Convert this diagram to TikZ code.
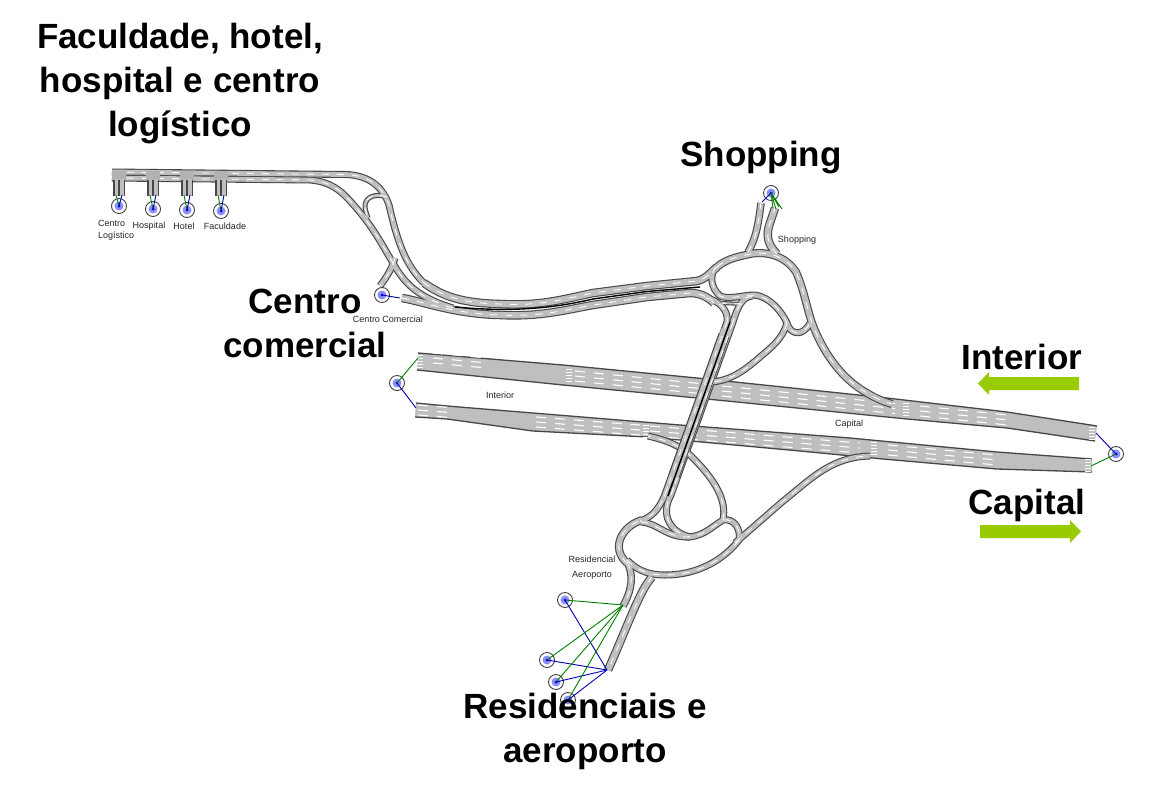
\documentclass[tikz,border=0pt]{standalone}
\usepackage{fontspec}
\setmainfont{Liberation Sans}
\tikzset{
  site/.style={circle,draw=black!75,line width=0.9pt,minimum size=15pt,inner sep=0pt,
    path picture={\fill[blue!45] (path picture bounding box.center) circle (4.5pt);
                  \fill[blue!75!black] (path picture bounding box.center) circle (1.5pt);}},
  big/.style={font=\bfseries\fontsize{35}{44}\selectfont,align=center,inner sep=0pt,text=black},
  small/.style={font=\fontsize{9}{12}\selectfont,align=center,inner sep=0pt,text=black!85},
  gl/.style={draw=green!50!black,line width=0.9pt},
  bl/.style={draw=blue!70!black,line width=0.9pt},
  redge/.style={draw=black!72,line cap=butt,line join=round},
  rfill/.style={draw=black!25,line cap=butt,line join=round},
  rdash/.style={draw=white,line width=0.9pt,dash pattern=on 7pt off 8pt},
  lane/.style={draw=white,line width=1.1pt,dash pattern=on 10pt off 9pt},
  hwy/.style={fill=black!25},
  hedge/.style={draw=black!72,line width=1.3pt,line join=round},
}
\definecolor{arrowgreen}{HTML}{99CC00}
% the ramps, drawn in three passes so that they merge
\newcommand{\allroads}{%
  % top-left pair and upper mid section
  \rd{7}{(112,172) -- (345,174.5) .. controls (372,175) and (384,190) .. (389,205) .. controls (397,240) and (405,265) .. (424,283)}
  \rd{8.5}{(424,283) .. controls (445,298) and (465,303) .. (500,304) .. controls (540,306) and (560,300) .. (593,293) -- (647,286) -- (697,281) .. controls (706,279) and (711,272) .. (717,267)}
  \rd{7}{(112,178) -- (310,180) .. controls (335,182) and (345,195) .. (358,210) .. controls (375,230) and (385,250) .. (393,263) .. controls (405,285) and (420,298) .. (453,308)}
  \rd{7}{(395,258) .. controls (391,272) and (384,280) .. (380,286)}
  \rd{5}{(387,197) .. controls (375,193) and (366,197) .. (365,205) .. controls (365,210) and (366,212) .. (368,218)}
  % lower carriageway, mid section
  \rd{8.5}{(402,298) .. controls (425,302) and (455,314) .. (500,315) .. controls (540,317) and (565,310) .. (593,305) -- (647,297) -- (690,293) .. controls (700,293) and (708,297) .. (714,303)}
  % upper junction
  \rd{8}{(717,267) .. controls (727,258) and (742,256) .. (750,254) .. controls (765,251) and (785,255) .. (796,272) .. controls (804,290) and (806,305) .. (812,323) .. controls (822,350) and (840,378) .. (867,393) .. controls (875,398) and (882,401) .. (892,404)}
  \rd{7}{(716,267) .. controls (709,275) and (711,288) .. (720,296) .. controls (730,300) and (742,295) .. (755,295) .. controls (770,297) and (782,312) .. (787,323) .. controls (790,335) and (803,337) .. (810,323)}
  \rd{7}{(787,323) .. controls (783,338) and (772,347) .. (760,357) .. controls (745,370) and (732,380) .. (712,382)}
  \rd{7.5}{(748,252) .. controls (755,240) and (758,228) .. (761,203)}
  \rd{8.5}{(777,254) .. controls (768,245) and (766,236) .. (769,226) -- (775,208)}
  % overpass carriageways and their branches
  \rd{7}{(706,298) .. controls (718,300) and (729,310) .. (727,322) -- (664,497) .. controls (658,510) and (652,517) .. (640,521)}
  \rd{7}{(752,296) .. controls (743,297) and (738,305) .. (733,322) -- (671,495) .. controls (660,515) and (670,532) .. (690,537)}
  \rd{4}{(742,304) -- (722,303)}
  % lower junction
  \rd{8}{(627,563) .. controls (610,548) and (622,526) .. (642,520)}
  \rd{7}{(641,522) .. controls (658,523) and (666,538) .. (690,537) .. controls (705,535) and (713,526) .. (723,520) .. controls (735,518) and (741,530) .. (739,540) .. controls (725,558) and (700,575) .. (665,575) .. controls (645,575) and (635,568) .. (627,560)}
  \rd{7}{(723,520) .. controls (727,500) and (715,480) .. (692,457) .. controls (680,445) and (665,440) .. (648,436)}
  \rd{7.5}{(627,562) .. controls (634,575) and (632,590) .. (623,606)}
  \rd{8.5}{(652,577) .. controls (640,590) and (628,625) .. (608,670)}
  \rd{7}{(735,543) -- (782,502) .. controls (810,480) and (830,457) .. (870,456)}
}
\begin{document}
\begin{tikzpicture}[x=1pt,y=-1pt]
\useasboundingbox (0,0) rectangle (1169,800);
\fill[white] (0,0) rectangle (1169,800);

% ---- highways
\fill[hwy] (418,353) -- (563,365) -- (697,378) -- (887,398) -- (1007,412) -- (1097,426)
  -- (1095,441) -- (1007,428) -- (907,419) -- (697,398) -- (563,385) -- (417,370) -- cycle;
\draw[hedge] (418,353) -- (563,365) -- (697,378) -- (887,398) -- (1007,412) -- (1097,426);
\draw[hedge] (417,370) -- (563,385) -- (697,398) -- (907,419) -- (1007,428) -- (1095,441);
\fill[hwy] (416,403) -- (447,406) -- (533,413) -- (680,425) -- (850,438) -- (997,452) -- (1092,459)
  -- (1092,472) -- (997,469) -- (883,459) -- (800,451) -- (647,437) -- (533,431) -- (447,419) -- (415,417) -- cycle;
\draw[hedge] (416,403) -- (447,406) -- (533,413) -- (680,425) -- (850,438) -- (997,452) -- (1092,459);
\draw[hedge] (415,417) -- (447,419) -- (533,431) -- (647,437) -- (800,451) -- (883,459) -- (997,469) -- (1092,472);
% lane marks
\foreach \d in {-5,0,5}{
  \draw[lane] (433,358+\d) -- (482,362.5+\d);
  \draw[lane] (575,376+\d) -- (705,389+\d);
  \draw[lane] (722,391+\d) -- (895,408.5+\d);
  \draw[lane] (920,411+\d) -- (1008,420+\d);
  \draw[lane] (418,410+\d) -- (450,412.5+\d);
  \draw[lane] (536,422+\d) -- (640,430+\d);
  \draw[lane] (650,431+\d) -- (860,448+\d);
  \draw[lane] (888,450+\d) -- (997,460+\d);
}
\foreach \x/\y in {569/375,906/409,1092/433,420/361,646/431,874/448,1088/465}{
  \foreach \d in {-6,-3,0,3,6}{\draw[white,line width=0.9pt] (\x-3,\y+\d) -- (\x+3,\y+\d);}
}

% ---- ramps in three passes
\newcommand{\rd}[2]{\draw[redge,line width=#1pt] #2;}
\allroads
\renewcommand{\rd}[2]{\draw[rfill,line width=#1pt-2.2pt] #2;}
\allroads
\renewcommand{\rd}[2]{\draw[rdash] #2;}
\allroads

% ---- median of mid section
\draw[black,line width=1.4pt] (455,307) .. controls (510,312) and (550,309) .. (593,299) -- (647,291.5) -- (700,287);

% ---- overpass, on top of what it crosses
\draw[black!72,line width=11.5pt] (724,335) -- (674,476);
\draw[black!25,line width=9.5pt] (726,330) -- (672,482);
\draw[black,line width=1.5pt] (730,322) -- (668,496);
\draw[white,line width=0.8pt,dash pattern=on 7pt off 8pt] (727,322) -- (664,497);
\draw[white,line width=0.8pt,dash pattern=on 7pt off 8pt] (733,322) -- (671,495);

% ---- stubs, top left
\foreach \x in {119,153,187,221}{
  \fill[black!30] (\x-7,171) rectangle (\x+7,180);
  \fill[black!72] (\x-6,180) rectangle (\x+6,196);
  \fill[black!25] (\x-4.5,179) rectangle (\x-1,196);
  \fill[black!25] (\x+1,179) rectangle (\x+4.5,196);
}

% ---- site circles
\node[site] (cl) at (119,206) {};
\node[site] (ho) at (153,209) {};
\node[site] (ht) at (187,210) {};
\node[site] (fa) at (221,211) {};
\node[site] (cc) at (382,295) {};
\node[site] (sh) at (771,193) {};
\node[site] (we) at (397,383) {};
\node[site] (ea) at (1116,454) {};
\node[site] (r1) at (565,600) {};
\node[site] (r2) at (547,660) {};
\node[site] (r3) at (556,682) {};
\node[site] (r4) at (568,700) {};

% ---- connectors
\foreach \n/\x in {cl/119,ho/153,ht/187,fa/221}{
  \coordinate (\n g) at (\x-3,195);
  \coordinate (\n b) at (\x+3,195);
  \draw[gl] (\n g) -- (\n.center);
  \draw[bl] (\n b) -- (\n.center);
}
\coordinate (ccb) at (400,298);
\draw[bl] (cc.center) -- (ccb);
\coordinate (shb) at (762,202);
\draw[bl] (sh.center) -- (shb);
\foreach \x/\y in {773/208,776/209,779/207,782/209}{
  \coordinate (shg) at (\x,\y);
  \draw[gl] (sh.center) -- (shg);
}
\coordinate (weg) at (418,358);
\coordinate (web) at (416,408);
\draw[gl] (we.center) -- (weg);
\draw[bl] (we.center) -- (web);
\coordinate (eab) at (1096,433);
\coordinate (eag) at (1091,466);
\draw[bl] (ea.center) -- (eab);
\draw[gl] (ea.center) -- (eag);
\coordinate (rg) at (623,605);
\coordinate (rb) at (607,670);
\foreach \n in {r1,r2,r3,r4}{
  \draw[gl] (\n.center) -- (rg);
  \draw[bl] (\n.center) -- (rb);
}

% ---- green arrows
\fill[arrowgreen] (978,383.5) -- (989,372) -- (989,377) -- (1079,377) -- (1079,390) -- (989,390) -- (989,395) -- cycle;
\fill[arrowgreen] (1081,531.5) -- (1070,520) -- (1070,525) -- (980,525) -- (980,538) -- (1070,538) -- (1070,543) -- cycle;

% ---- small labels
\node[small,align=left,anchor=north west] (l1) at (98,220) {Centro\\Logístico};
\node[small] (l2) at (149,226) {Hospital};
\node[small] (l3) at (184,226.5) {Hotel};
\node[small] (l4) at (225,226.5) {Faculdade};
\node[small] (l5) at (388,319) {Centro Comercial};
\node[small] (l6) at (797,240) {Shopping};
\node[small] (l7) at (500,395) {Interior};
\node[small] (l8) at (849,424) {Capital};
\node[small,font=\fontsize{9}{15}\selectfont] (l9) at (592,567.5) {Residencial\\Aeroporto};

% ---- big labels
\node[big] (t1) at (180,84) {Faculdade, hotel,\\hospital e centro\\logístico};
\node[big] (t2) at (761,158) {Shopping};
\node[big] (t3) at (305,323) {Centro\\comercial};
\node[big] (t4) at (1022,357) {Interior};
\node[big] (t5) at (1027,505) {Capital};
\node[big] (t6) at (585,731) {Residenciais e\\aeroporto};
\end{tikzpicture}
\end{document}
